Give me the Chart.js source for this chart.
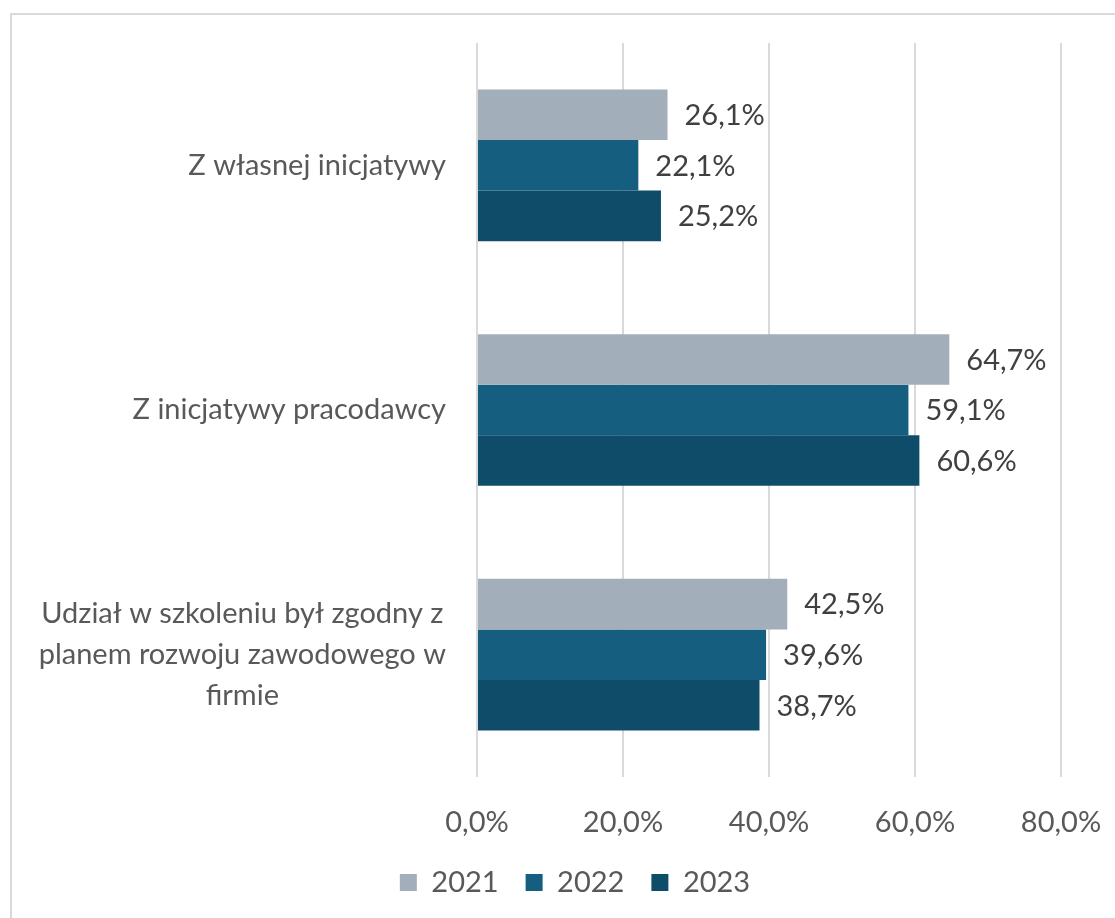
<!DOCTYPE html>
<html>
<head>
<meta charset="utf-8">
<script src="https://cdn.jsdelivr.net/npm/chart.js@4/dist/chart.umd.min.js"></script>
<style>
    html, body { margin: 0; padding: 0; background: #fff; overflow: hidden; }
    #frame { position: absolute; left: 10px; top: 13px; width: 1200px; height: 1000px; border: 2px solid #d9d9d9; }
    #wrap { position: absolute; left: 0; top: 0; width: 1115px; height: 918px; }
</style>
</head>
<body>
<div id="frame"></div>
<div id="wrap"><canvas id="chart" width="1115" height="918"></canvas></div>
<script>
// categories (one array of lines per label) and series values, in percent
const categories = [
    ["Z własnej inicjatywy"],
    ["Z inicjatywy pracodawcy"],
    ["Udział w szkoleniu był zgodny z", "planem rozwoju zawodowego w", "firmie"]
];
const years = ["2021", "2022", "2023"];
const values2021 = [26.1, 64.7, 42.5];
const values2022 = [22.1, 59.1, 39.6];
const values2023 = [25.2, 60.6, 38.7];
const xTicks = [0, 20, 40, 60, 80];

const colors = ["#A2AFBA", "#165E80", "#0F4C69"];
const fontFamily = "Lato, 'Open Sans', sans-serif";
const fontSize = 29;

const fmt = v => v.toFixed(1).replace(".", ",") + "%";

// value labels to the right of each bar
const valueLabels = {
    id: "valueLabels",
    afterDatasetsDraw(chart) {
        const ctx = chart.ctx;
        ctx.save();
        ctx.font = fontSize + "px " + fontFamily;
        ctx.fillStyle = "#404040";
        ctx.textAlign = "left";
        ctx.textBaseline = "middle";
        chart.data.datasets.forEach((ds, di) => {
            chart.getDatasetMeta(di).data.forEach((bar, i) => {
                ctx.fillText(fmt(ds.data[i]), bar.x + 17, bar.y + 1);
            });
        });
        ctx.restore();
    }
};

// category labels: single lines right-aligned, wrapped labels centred in their block
const categoryLabels = {
    id: "categoryLabels",
    afterDraw(chart) {
        const ctx = chart.ctx;
        const yScale = chart.scales.y;
        const right = chart.chartArea.left - 31;
        const lineHeight = 41;
        ctx.save();
        ctx.font = fontSize + "px " + fontFamily;
        ctx.fillStyle = "#595959";
        ctx.textBaseline = "middle";
        categories.forEach((lines, i) => {
            const cy = yScale.getPixelForValue(i);
            const blockWidth = Math.max(...lines.map(l => ctx.measureText(l).width));
            lines.forEach((line, j) => {
                const ly = cy + (j - (lines.length - 1) / 2) * lineHeight;
                if (lines.length === 1) {
                    ctx.textAlign = "right";
                    ctx.fillText(line, right, ly);
                } else {
                    ctx.textAlign = "center";
                    ctx.fillText(line, right - blockWidth / 2, ly);
                }
            });
        });
        ctx.restore();
    }
};

new Chart(document.getElementById("chart"), {
    type: "bar",
    data: {
        labels: categories.map(c => c.join(" ")),
        datasets: [
            { label: years[0], data: values2021, backgroundColor: colors[0] },
            { label: years[1], data: values2022, backgroundColor: colors[1] },
            { label: years[2], data: values2023, backgroundColor: colors[2] }
        ]
    },
    options: {
        indexAxis: "y",
        responsive: false,
        devicePixelRatio: 1,
        animation: false,
        layout: { padding: { left: 89, right: 54, top: 43, bottom: 11 } },
        datasets: {
            bar: { barPercentage: 1, categoryPercentage: 0.62, borderWidth: 0 }
        },
        scales: {
            x: {
                min: 0,
                max: 80,
                afterBuildTicks: scale => { scale.ticks = xTicks.map(v => ({ value: v })); },
                afterFit: scale => { scale.height = 64; },
                grid: { color: "#d9d9d9", lineWidth: 2, drawTicks: true, tickLength: 26, tickColor: "rgba(0,0,0,0)" },
                border: { display: false },
                ticks: {
                    padding: 2,
                    color: "#595959",
                    font: { family: fontFamily, size: fontSize },
                    callback: v => fmt(v)
                }
            },
            y: {
                afterFit: scale => { scale.width = 388; },
                grid: { display: false },
                border: { display: false },
                ticks: { display: false }
            }
        },
        plugins: {
            legend: {
                position: "bottom",
                labels: {
                    boxWidth: 17,
                    boxHeight: 17,
                    padding: 27,
                    color: "#595959",
                    font: { family: fontFamily, size: fontSize }
                }
            },
            tooltip: { enabled: false }
        }
    },
    plugins: [valueLabels, categoryLabels]
});
</script>
</body>
</html>
